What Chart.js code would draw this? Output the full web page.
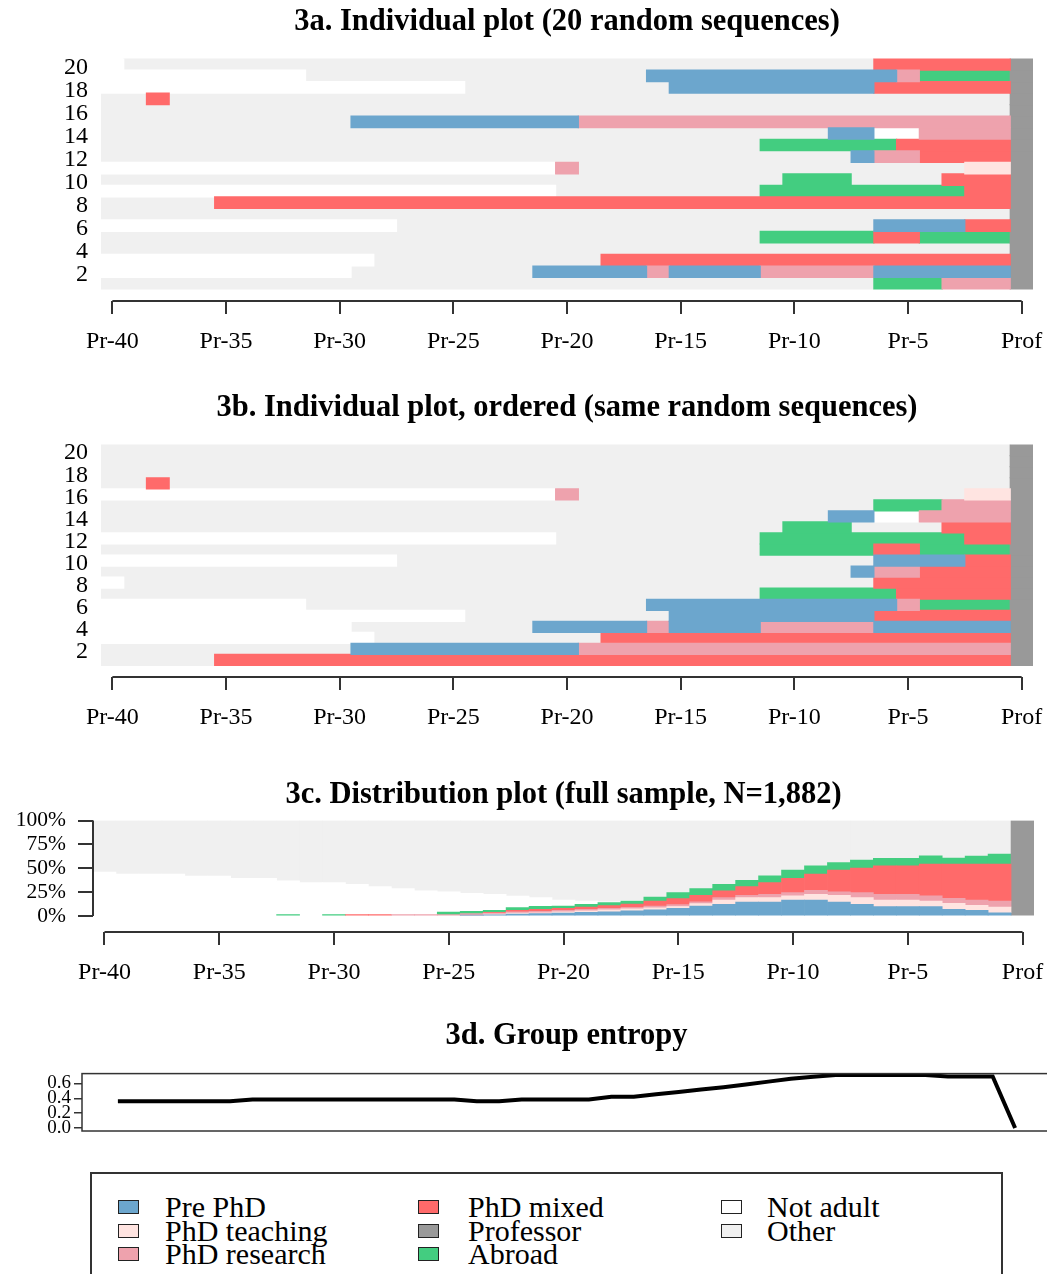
<!DOCTYPE html>
<html>
<head>
<meta charset="utf-8">
<script src="https://cdn.jsdelivr.net/npm/chart.js@4.4.1/dist/chart.umd.min.js"></script>
<style>
  body { margin: 0; background: #fff; overflow: hidden; }
  #page { position: relative; width: 1047px; height: 1274px; overflow: hidden; background: #fff; }
  canvas { position: absolute; left: 0; }
  #legend { position: absolute; left: 90px; top: 1172px; width: 913px; height: 130px;
            border: 2px solid #333; box-sizing: border-box; font-family: 'Liberation Serif', serif; }
  .sw { position: absolute; width: 21px; height: 14px; border: 1.5px solid #222; box-sizing: border-box; }
  .lt { position: absolute; font-size: 30px; line-height: 30px; white-space: nowrap; color: #000; }
</style>
</head>
<body>
<div id="page">
  <canvas id="c3a" width="1047" height="386" style="top:0"></canvas>
  <canvas id="c3b" width="1047" height="376" style="top:386px"></canvas>
  <canvas id="c3c" width="1047" height="245" style="top:762px"></canvas>
  <canvas id="c3d" width="1056" height="120" style="top:1015px"></canvas>
  <div id="legend"></div>
</div>
<script>
// ===== DATA =====
const stateCodes  = ['B', 'T', 'R', 'M', 'P', 'A', 'N', 'O'];
const stateLabels = ['Pre PhD', 'PhD teaching', 'PhD research', 'PhD mixed', 'Professor', 'Abroad', 'Not adult', 'Other'];
const stateColors = ['#6CA6CD', '#FFE4E1', '#EEA2AD', '#FF6A6A', '#999999', '#43CD80', '#FFFFFF', '#F0F0F0'];

const timeTicks      = [-40, -35, -30, -25, -20, -15, -10, -5, 0];
const timeTickLabels = ['Pr-40', 'Pr-35', 'Pr-30', 'Pr-25', 'Pr-20', 'Pr-15', 'Pr-10', 'Pr-5', 'Prof'];
const rowTicks       = [2, 4, 6, 8, 10, 12, 14, 16, 18, 20];
const pctTicks       = [0, 25, 50, 75, 100];
const entropyTicks   = [0, 0.2, 0.4, 0.6];

// 20 random sequences, Pr-40 .. Prof, as state + run length (row 1 = bottom)
const sequences = [
    'O34 A3 R3 P1',
    'N11 O8 B5 R1 B4 R5 B6 P1',
    'N12 O10 M18 P1',
    'O40 P1',
    'O29 A5 M2 A4 P1',
    'N13 O21 B4 M2 P1',
    'O40 P1',
    'O5 M35 P1',
    'N20 O9 A9 M2 P1',
    'O30 A3 O4 M3 P1',
    'N20 R1 O17 T2 P1',
    'O33 B1 R2 M4 P1',
    'O29 A6 M5 P1',
    'O32 B2 N2 R4 P1',
    'O11 B10 R19 P1',
    'O40 P1',
    'O2 M1 O37 P1',
    'N16 O9 B9 M6 P1',
    'N9 O15 B11 R1 A4 P1',
    'N1 O33 M6 P1'
];
const orderA = [1, 2, 3, 4, 5, 6, 7, 8, 9, 10, 11, 12, 13, 14, 15, 16, 17, 18, 19, 20];
const orderB = [8, 15, 3, 2, 18, 19, 13, 20, 12, 6, 5, 9, 10, 14, 1, 11, 17, 4, 7, 16];

// state distribution (%), Pr-40 .. Prof
const distPrePhD   = [0,0,0,0,0,0,0,0,0,0, 0,0,0,0,0,0,1,1.2,2,2.5, 3,4,4.5,5.5,6.5,8,10.5,12.3,14.7,14.7, 16.8,16.8,14.7,12.3,9.8,9.8,9.8,7,6,3.5, 0];
const distTeaching = [0,0,0,0,0,0,0,0,0,0, 0,0,0,0,0,0,0,0.8,1,1, 1.5,1.5,2,2,2,2,2.5,4.5,4.6,4.6, 4.3,6,7.1,7,7,7,6,6.3,5.2,6, 0];
const distResearch = [0,0,0,0,0,0,0,0,0,0, 0,0,0,1.5,1.5,1.5,1.5,1,1.5,1.5, 1.5,1.5,1.5,1.5,2,2,2,2.5,2.5,3.5, 3.5,4.2,3.5,5.3,6,6,5.3,5.3,5.6,6.3, 0];
const distMixed    = [0,0,0,0,0,0,0,0,0,0, 0,1.5,1.5,0,0,0,0,1,1.5,2, 2,2.5,3,3.5,5.3,6.2,6.8,7,9.1,12.3, 15,16.9,22.8,25.6,29.8,29.8,33.3,35.8,37.6,38.6, 0];
const distProf     = [0,0,0,0,0,0,0,0,0,0, 0,0,0,0,0,0,0,0,0,0, 0,0,0,0,0,0,0,0,0,0, 0,0,0,0,0,0,0,0,0,0, 100];
const distAbroad   = [0,0,0,0,0,0,0,0,1.5,0, 1.5,0,0,0,0,2.7,2.4,2,2.8,3.2, 2.5,2.8,3,3.3,4.2,6.4,7,7,6.6,7, 8.5,8.7,8,8.4,7.8,7.8,8.8,6.3,8.4,10.5, 0];
const distNotAdult = [46,44,44,44,42,42,39.6,39.6,35.3,35.1, 33.6,31.8,29.4,27.3,24.8,21.1,19,16.8,12.2,9.1, 6.3,3.5,1,0.5,0,0,0,0,0,0, 0,0,0,0,0,0,0,0,0,0, 0];
const distOther    = [54,56,56,56,58,58,60.4,60.4,63.2,64.9, 64.9,66.7,69.1,71.2,73.7,74.7,76.1,77.2,79,80.7, 83.2,84.2,85,83.7,80,75.4,71.2,66.7,62.5,57.9, 51.9,47.4,43.9,41.4,39.6,39.6,36.8,39.3,37.2,35.1, 0];

// group entropy, Pr-40 .. Prof
const entropy = [0.36,0.36,0.36,0.36,0.36,0.36,0.385,0.385,0.385,0.385, 0.385,0.385,0.385,0.385,0.385,0.385,0.36,0.36,0.385,0.385,
                 0.385,0.385,0.42,0.42,0.455,0.485,0.52,0.55,0.585,0.625, 0.665,0.69,0.715,0.715,0.715,0.715,0.715,0.695,0.695,0.695, 0];

// ===== SETUP =====
Chart.defaults.font.family = "'Liberation Serif', 'Times New Roman', serif";
Chart.defaults.color = '#000';

const distSeries = [distPrePhD, distTeaching, distResearch, distMixed, distProf, distAbroad, distNotAdult, distOther];

// R style axis: line only between first and last tick, optional box
const rAxis = {
    id: 'rAxis',
    afterDraw(chart, args, opts) {
        const ctx = chart.ctx;
        ctx.save();
        ctx.strokeStyle = '#333';
        ctx.lineWidth = 2;
        (opts.axes || []).forEach(id => {
            const s = chart.scales[id];
            const a = s.getPixelForValue(s.ticks[0].value);
            const b = s.getPixelForValue(s.ticks[s.ticks.length - 1].value);
            ctx.beginPath();
            if (s.isHorizontal()) {
                ctx.moveTo(a, s.top);
                ctx.lineTo(b, s.top);
            } else {
                ctx.moveTo(s.right, a);
                ctx.lineTo(s.right, b);
            }
            ctx.stroke();
        });
        if (opts.box) {
            const c = chart.chartArea;
            ctx.lineWidth = 1.5;
            ctx.strokeRect(c.left, c.top, c.right - c.left, c.bottom - c.top);
        }
        ctx.restore();
    }
};

function spellsOf(code) {
    let pos = -40;
    return code.split(' ').map(s => {
        const len = +s.slice(1);
        const sp = { state: s[0], from: pos - 0.5, to: pos + len - 0.5 };
        pos += len;
        return sp;
    });
}

function titleOpts(text, top, bottom) {
    return {
        display: true, text: text, fullSize: false,
        font: { size: 30.5, weight: 'bold' }, color: '#000',
        padding: { top: top, bottom: bottom }
    };
}

function timeAxis(height, extra) {
    return Object.assign({
        type: 'linear', min: -40.5, max: 0.5, offset: false,
        afterBuildTicks: s => { s.ticks = timeTicks.map(v => ({ value: v })); },
        afterFit: s => { s.height = height; s.paddingLeft = 0; s.paddingRight = 0; },
        ticks: { autoSkip: false, maxRotation: 0, padding: 13, font: { size: 24 },
                 callback: (v, i) => timeTickLabels[i] },
        grid: { drawOnChartArea: false, tickLength: 13, color: '#333', lineWidth: 2, offset: false },
        border: { display: false }
    }, extra || {});
}

// ===== 3a / 3b: sequence index plots =====
function seqChart(id, title, order) {
    const datasets = stateCodes.map((code, si) => {
        const data = [];
        order.forEach((seqNo, r) => {
            spellsOf(sequences[seqNo - 1]).forEach(sp => {
                if (sp.state === code) data.push({ x: [sp.from, sp.to], y: r + 1 });
            });
        });
        return {
            label: stateLabels[si], data: data, backgroundColor: stateColors[si],
            grouped: false, barPercentage: 1, categoryPercentage: 1, borderWidth: 0,
            inflateAmount: 0.6
        };
    });

    new Chart(document.getElementById(id), {
        type: 'bar',
        data: { datasets: datasets },
        plugins: [rAxis],
        options: {
            indexAxis: 'y',
            responsive: false,
            animation: false,
            layout: { padding: { left: 0, right: 14, top: 0, bottom: 0 } },
            plugins: {
                legend: { display: false },
                tooltip: { enabled: false },
                title: titleOpts(title, 4, 18),
                rAxis: { axes: ['x'] }
            },
            scales: {
                x: timeAxis(85),
                y: {
                    type: 'linear', min: -0.54, max: 20.5, offset: false,
                    afterBuildTicks: s => { s.ticks = rowTicks.map(v => ({ value: v })); },
                    afterFit: s => { s.width = 101; s.paddingTop = 0; s.paddingBottom = 0; },
                    ticks: { autoSkip: false, padding: 13, labelOffset: 3, font: { size: 24 } },
                    grid: { display: false, drawTicks: false },
                    border: { display: false }
                }
            }
        }
    });
}

seqChart('c3a', '3a. Individual plot (20 random sequences)', orderA);
seqChart('c3b', '3b. Individual plot, ordered (same random sequences)', orderB);

// ===== 3c: distribution plot =====
new Chart(document.getElementById('c3c'), {
    type: 'bar',
    data: {
        datasets: distSeries.map((vals, si) => ({
            label: stateLabels[si],
            data: vals.map((v, k) => ({ x: k - 40, y: v || null })),
            backgroundColor: stateColors[si],
            barPercentage: 1, categoryPercentage: 1, borderWidth: 0
        }))
    },
    plugins: [rAxis],
    options: {
        responsive: false,
        animation: false,
        layout: { padding: { left: 0, right: 13, top: 0, bottom: 0 } },
        plugins: {
            legend: { display: false },
            tooltip: { enabled: false },
            title: titleOpts('3c. Distribution plot (full sample, N=1,882)', 15, 7),
            rAxis: { axes: ['x', 'y'] }
        },
        scales: {
            x: timeAxis(75, { stacked: true }),
            y: {
                type: 'linear', stacked: true, min: -16.7, max: 100,
                afterBuildTicks: s => { s.ticks = pctTicks.map(v => ({ value: v })); },
                afterFit: s => { s.width = 93; s.paddingTop = 0; s.paddingBottom = 0; },
                ticks: { autoSkip: false, padding: 12, font: { size: 21.5 }, callback: v => v + '%' },
                grid: { drawOnChartArea: false, tickLength: 15, color: '#333', lineWidth: 2 },
                border: { display: false }
            }
        }
    }
});

// ===== 3d: group entropy =====
new Chart(document.getElementById('c3d'), {
    type: 'line',
    data: {
        datasets: [{
            label: 'Entropy',
            data: entropy.map((v, k) => ({ x: k - 40, y: v })),
            borderColor: '#000', borderWidth: 4, pointRadius: 0, tension: 0, fill: false
        }]
    },
    plugins: [rAxis],
    options: {
        responsive: false,
        animation: false,
        layout: { padding: { left: 0, right: 5, top: 0, bottom: 4 } },
        plugins: {
            legend: { display: false },
            tooltip: { enabled: false },
            title: titleOpts('3d. Group entropy', 3, 19),
            rAxis: { axes: [], box: true }
        },
        scales: {
            x: { type: 'linear', min: -41.6, max: 1.6, display: false },
            y: {
                type: 'linear', min: -0.04, max: 0.733,
                afterBuildTicks: s => { s.ticks = entropyTicks.map(v => ({ value: v })); },
                afterFit: s => { s.width = 82; s.paddingTop = 0; s.paddingBottom = 0; },
                ticks: { autoSkip: false, padding: 3, font: { size: 19 }, callback: v => v.toFixed(1) },
                grid: { drawOnChartArea: false, tickLength: 8, color: '#333', lineWidth: 1.5 },
                border: { display: false }
            }
        }
    }
});

// ===== LEGEND =====
const legend = document.getElementById('legend');
const colSwatchX = [26, 326, 629];
const colTextX = [73, 376, 675];
const rowCenterY = [33, 57, 80];
stateLabels.forEach((lab, i) => {
    const col = Math.floor(i / 3), row = i % 3;
    const sw = document.createElement('div');
    sw.className = 'sw';
    sw.style.left = colSwatchX[col] + 'px';
    sw.style.top = (rowCenterY[row] - 7) + 'px';
    sw.style.background = stateColors[i];
    legend.appendChild(sw);
    const t = document.createElement('div');
    t.className = 'lt';
    t.style.left = colTextX[col] + 'px';
    t.style.top = (rowCenterY[row] - 15) + 'px';
    t.textContent = lab;
    legend.appendChild(t);
});
</script>
</body>
</html>
